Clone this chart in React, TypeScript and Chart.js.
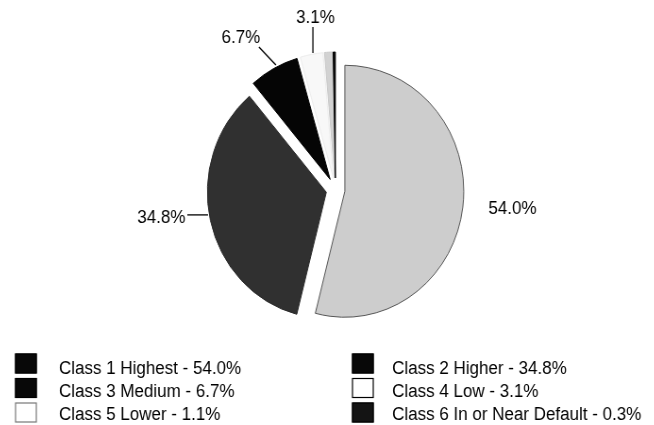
import React, { useEffect, useRef } from "react";
import { Chart, registerables } from "chart.js";

Chart.register(...registerables);

// ---- data ----
const categories = [
  "Class 1 Highest",
  "Class 2 Higher",
  "Class 3 Medium",
  "Class 4 Low",
  "Class 5 Lower",
  "Class 6 In or Near Default",
];
const shares = [54.0, 34.8, 6.7, 3.1, 1.1, 0.3];
const labelledSlices = [0, 1, 2, 3];

// ---- styles ----
const sliceColors = ["#cdcdcd", "#303030", "#050505", "#f8f8f8", "#d2d2d2", "#0a0a0a"];
const sliceBorders = ["#555555", "#2a2a2a", "#000000", "#ececec", "#c8c8c8", "#000000"];
const explode = [10, 10, 12, 12, 12, 12];
const legendFills = ["#080808", "#080808", "#080808", "#ffffff", "#ffffff", "#141414"];
const legendStrokes = ["#000000", "#000000", "#000000", "#000000", "#777777", "#000000"];
const FONT = "18px 'Liberation Sans', Arial, Helvetica, sans-serif";

// logical canvas (drawn wider, displayed slightly narrower like the scanned original)
const LW = 676;
const LH = 417;
const DW = 638;

// label placement relative to outer-arc anchor at slice mid angle
const labelLayout: Record<number, { line: number[] | null; text: number[]; align: CanvasTextAlign }> = {
  0: { line: null, text: [27, 6.5], align: "left" },
  1: { line: [-2.5, -5.6, -24.5, -5.6], text: [-26.5, 2.9], align: "right" },
  2: { line: [2.2, -3.4, -15.8, -21.4], text: [-14.5, -25.4], align: "right" },
  3: { line: [1.5, -1.3, 1.5, -27.3], text: [4.1, -31.3], align: "center" },
};

const explodePlugin = {
  id: "explodeSlices",
  afterDatasetsUpdate(chart: any) {
    const meta = chart.getDatasetMeta(0);
    meta.data.forEach((arc: any, i: number) => {
      const mid = (arc.startAngle + arc.endAngle) / 2;
      arc.x += Math.cos(mid) * explode[i];
      arc.y += Math.sin(mid) * explode[i];
    });
  },
};

const labelPlugin = {
  id: "sliceLabels",
  afterDatasetsDraw(chart: any) {
    const ctx: CanvasRenderingContext2D = chart.ctx;
    const meta = chart.getDatasetMeta(0);
    ctx.save();
    ctx.font = FONT;
    ctx.fillStyle = "#000";
    ctx.strokeStyle = "#000";
    ctx.lineWidth = 1.3;
    labelledSlices.forEach((i) => {
      const arc = meta.data[i];
      const mid = (arc.startAngle + arc.endAngle) / 2;
      const ax = arc.x + Math.cos(mid) * arc.outerRadius;
      const ay = arc.y + Math.sin(mid) * arc.outerRadius;
      const lay = labelLayout[i];
      if (lay.line) {
        ctx.beginPath();
        ctx.moveTo(ax + lay.line[0], ay + lay.line[1]);
        ctx.lineTo(ax + lay.line[2], ay + lay.line[3]);
        ctx.stroke();
      }
      ctx.textAlign = lay.align;
      ctx.textBaseline = "alphabetic";
      ctx.fillText(`${shares[i].toFixed(1)}%`, ax + lay.text[0], ay + lay.text[1]);
    });
    ctx.restore();
  },
};

const legendPlugin = {
  id: "twoColumnLegend",
  afterDraw(chart: any) {
    const ctx: CanvasRenderingContext2D = chart.ctx;
    const boxX = [7.5, 364.5];
    const textX = [54, 407];
    ctx.save();
    ctx.font = FONT;
    ctx.textAlign = "left";
    ctx.textBaseline = "alphabetic";
    categories.forEach((name, i) => {
      const col = i % 2;
      const row = Math.floor(i / 2);
      const top = 345.5 + row * 24.5;
      ctx.fillStyle = legendFills[i];
      ctx.fillRect(boxX[col], top, 23, 20);
      ctx.strokeStyle = legendStrokes[i];
      ctx.lineWidth = 1.2;
      ctx.strokeRect(boxX[col] + 0.5, top + 0.5, 22, 19);
      ctx.fillStyle = "#000";
      ctx.fillText(`${name} - ${shares[i].toFixed(1)}%`, textX[col], 366 + row * 22.75);
    });
    ctx.restore();
  },
};

export default function App() {
  const ref = useRef<HTMLCanvasElement>(null);

  useEffect(() => {
    if (!ref.current) return;
    const chart = new Chart(ref.current, {
      type: "pie",
      data: {
        labels: categories,
        datasets: [
          {
            data: shares,
            backgroundColor: sliceColors,
            borderColor: sliceBorders,
            borderWidth: 1,
            radius: 126,
          } as any,
        ],
      },
      options: {
        responsive: false,
        animation: false,
        events: [],
        radius: 126,
        layout: { padding: { left: 18, right: 0, top: 0, bottom: 53 } },
        plugins: {
          legend: { display: false },
          tooltip: { enabled: false },
        },
      } as any,
      plugins: [explodePlugin, labelPlugin, legendPlugin],
    });
    return () => chart.destroy();
  }, []);

  return (
    <div style={{ position: "absolute", left: 8, top: 8 }}>
      <canvas
        ref={ref}
        width={LW}
        height={LH}
        style={{ width: `${DW}px`, height: `${LH}px`, display: "block" }}
      />
    </div>
  );
}
